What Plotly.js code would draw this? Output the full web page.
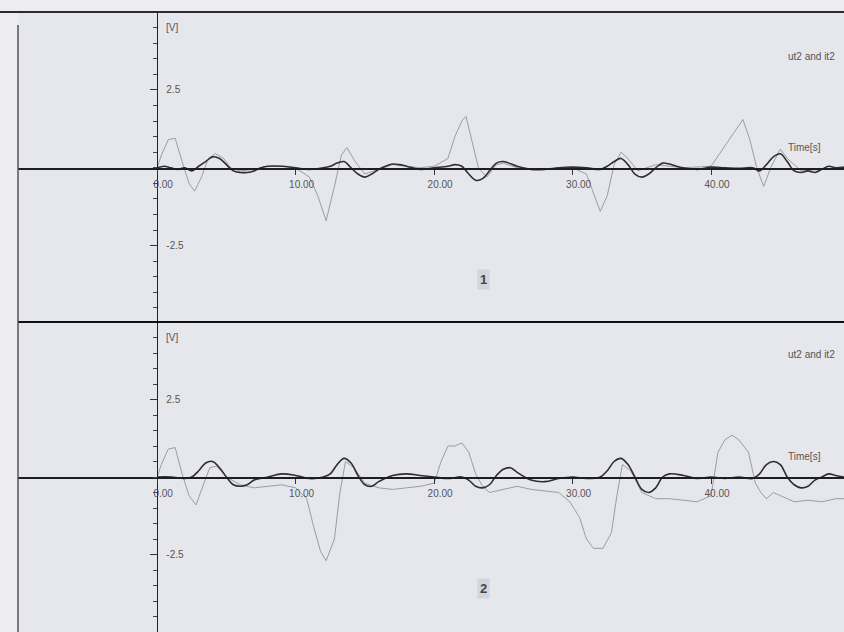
<!DOCTYPE html>
<html>
<head>
<meta charset="utf-8">
<script src="https://cdn.plot.ly/plotly-3.0.1.min.js"></script>
<style>html,body{margin:0;padding:0;background:#ececf1;}#chart{width:844px;height:632px;}</style>
</head>
<body>
<div id="chart"></div>
<script>
// Panel 1 — it2 (dark trace)
const t_it2_p1 = [0,0.5,1,1.5,2,2.5,3,3.5,4,4.5,5,5.5,6,6.5,7,7.5,8,9,10,11,12,12.5,13,13.5,14,14.5,15,15.5,16,16.5,17,17.5,18,19,20,21,21.5,22,22.5,23,23.5,24,24.5,25,26,27,28,29,30,31,32,32.5,33,33.5,34,34.5,35,35.5,36,36.5,37,37.5,38,39,40,41,42,43,43.5,44,44.5,45,45.5,46,46.5,47,47.5,48,48.5,49,49.6];
const v_it2_p1 = [0,0.05,0,-0.05,0,-0.1,0.05,0.2,0.35,0.3,0.1,-0.1,-0.15,-0.15,-0.1,0,0.05,0.05,0,-0.05,0,0.05,0.15,0.2,0,-0.2,-0.3,-0.2,-0.05,0.05,0.12,0.1,0.05,-0.05,0,0.05,0.1,0.05,-0.2,-0.4,-0.35,-0.1,0.15,0.2,0.05,-0.05,-0.05,0,0.02,0,-0.05,0.05,0.2,0.3,0.1,-0.2,-0.3,-0.2,0,0.15,0.12,0.05,0,-0.05,0.02,0,-0.02,0,-0.1,0.1,0.35,0.45,0.2,-0.1,-0.15,-0.1,-0.15,-0.05,0.05,0,0.02];

// Panel 1 — ut2 (thin trace)
const t_ut2_p1 = [0,0.3,0.8,1.3,1.8,2.3,2.7,3.2,3.7,4.2,4.8,5.3,6,7,8,9,10,11,11.6,12.2,12.8,13.3,13.7,14.3,15,16,17,18,19,20,21,21.5,22,22.3,22.7,23.2,23.8,24.5,25,26,28,30,31,31.5,32,32.5,33,33.5,34,34.7,36,37,38,40,40.7,41.5,42.3,42.8,43.3,43.8,44.3,45,45.5,46.5,48,49.6];
const v_ut2_p1 = [0,0.4,0.9,0.95,0.2,-0.5,-0.75,-0.3,0.3,0.45,0.3,0,-0.1,-0.05,0.05,0.05,0,-0.3,-0.9,-1.7,-0.6,0.4,0.65,0.2,-0.2,-0.05,0.1,0.05,0,0.05,0.3,1.0,1.5,1.65,0.9,0,-0.3,0.1,0.15,0,-0.05,0,-0.2,-0.8,-1.4,-0.9,0.1,0.5,0.3,-0.1,0.1,0.05,0,0.05,0.5,1.0,1.55,0.9,0,-0.6,0,0.6,0.3,-0.1,-0.05,0];

// Panel 2 — it2 (dark trace)
const t_it2_p2 = [0,1,2,2.5,3,3.5,4,4.5,5,5.5,6,6.5,7,8,9,10,11,12,12.5,13,13.5,14,14.5,15,15.5,16,17,18,19,20,21,22,22.5,23,23.5,24,24.5,25,25.5,26,27,28,29,30,31,32,32.5,33,33.5,34,34.5,35,35.5,36,36.5,37,38,39,40,41,42,43,43.5,44,44.5,45,45.5,46,46.5,47,47.5,48,48.5,49,49.6];
const v_it2_p2 = [0,0,-0.05,0,0.2,0.45,0.5,0.3,0,-0.25,-0.3,-0.25,-0.1,0,0.1,0.05,-0.05,0,0.1,0.4,0.6,0.45,0.05,-0.25,-0.3,-0.15,0.05,0.1,0.05,0,-0.05,0,-0.1,-0.3,-0.35,-0.25,0.05,0.25,0.3,0.15,-0.1,-0.15,-0.05,0,-0.05,0,0.2,0.5,0.6,0.4,0,-0.4,-0.5,-0.35,0,0.1,0.05,-0.05,0,-0.05,0,-0.05,0.1,0.4,0.5,0.4,0,-0.25,-0.35,-0.3,-0.1,0,0.1,0.05,0];

// Panel 2 — ut2 (thin trace)
const t_ut2_p2 = [0,0.3,0.8,1.3,1.8,2.3,2.8,3.3,3.8,4.3,5,6,7,8,9,10,10.8,11.3,11.8,12.2,12.8,13.2,13.6,14.2,15,16,17,18,19,20,20.5,21,21.5,22,22.5,23,23.5,24,25,26,27,28,29,29.8,30.5,31,31.5,32.2,32.8,33.2,33.6,34.2,35,36,37,38,39,40,40.5,41,41.5,42,42.7,43.2,43.6,44,44.5,45,46,47,48,49,49.6];
const v_ut2_p2 = [0,0.4,0.9,0.95,0.1,-0.6,-0.9,-0.3,0.3,0.35,0,-0.25,-0.35,-0.3,-0.25,-0.35,-0.7,-1.6,-2.4,-2.7,-2.0,-0.5,0.5,0.3,-0.2,-0.35,-0.4,-0.35,-0.3,-0.2,0.5,1.0,1.0,1.1,0.8,0.1,-0.3,-0.5,-0.4,-0.3,-0.4,-0.45,-0.5,-0.8,-1.3,-2.0,-2.3,-2.3,-1.8,-0.6,0.4,0.2,-0.5,-0.7,-0.7,-0.75,-0.8,-0.6,0.8,1.2,1.35,1.2,0.8,-0.2,-0.5,-0.7,-0.5,-0.6,-0.8,-0.75,-0.8,-0.7,-0.7];

const xTickVals = [0,10,20,30,40];
const yTickVals = [-2.5,2.5];
const yTickText = ['-2.5','2.5'];
const panelTexts = ['ut2 and it2','ut2 and it2'];
const panelNums = ['1','2'];

const darkCol = '#2e2e34', thinCol = '#9c9ca6';
const traces = [
  {x:t_ut2_p1, y:v_ut2_p1, xaxis:'x', yaxis:'y', mode:'lines', line:{color:thinCol, width:1}},
  {x:t_it2_p1, y:v_it2_p1, xaxis:'x', yaxis:'y', mode:'lines', line:{color:darkCol, width:1.6, shape:'spline'}},
  {x:t_ut2_p2, y:v_ut2_p2, xaxis:'x2', yaxis:'y2', mode:'lines', line:{color:thinCol, width:1}},
  {x:t_it2_p2, y:v_it2_p2, xaxis:'x2', yaxis:'y2', mode:'lines', line:{color:darkCol, width:1.6, shape:'spline'}}
];

const tickFont = {family:'Liberation Sans, Arial, sans-serif', size:10, color:'#555'};
function xAx(pos, yname){
  return {range:[-10.05,49.6], domain:[18/844,1], anchor:'free', overlaying:undefined, position:pos,
    showline:true, linecolor:'#1e1e22', linewidth:1.5, ticks:'outside', ticklen:5, tickcolor:'#333',
    tickvals:xTickVals, tickformat:'.2f', ticklabelshift:6, ticklabelstandoff:1, tickfont:tickFont,
    showgrid:false, zeroline:false, fixedrange:true};
}
function yAx(dom, rng){
  return {range:rng, domain:dom, anchor:'free', position:157/844, side:'right',
    showline:true, linecolor:'#222', linewidth:1.3, ticks:'inside', ticklen:7, tickcolor:'#333',
    tickvals:yTickVals, ticktext:yTickText, tickfont:tickFont, ticklabelstandoff:6,
    minor:{dtick:0.5, tick0:0, ticks:'inside', ticklen:4, tickcolor:'#444'},
    showgrid:false, zeroline:false, fixedrange:true};
}
const d1 = [(632-322)/632, (632-12)/632];
const d2 = [0, (632-322)/632];

const annFont = {family:'Liberation Sans, Arial, sans-serif', size:10, color:'#555'};
const annotations = [
  {xref:'x', yref:'y', x:0.5, y:4.5, text:'[V]', showarrow:false, xanchor:'left', font:annFont},
  {xref:'x2', yref:'y2', x:0.5, y:4.5, text:'[V]', showarrow:false, xanchor:'left', font:annFont},
  {xref:'x', yref:'y', x:45.4, y:0.66, text:'Time[s]', showarrow:false, xanchor:'left', font:annFont},
  {xref:'x2', yref:'y2', x:45.4, y:0.66, text:'Time[s]', showarrow:false, xanchor:'left', font:annFont},
  {xref:'x', yref:'y', x:49.1, y:3.56, text:panelTexts[0], showarrow:false, xanchor:'right', font:annFont},
  {xref:'x2', yref:'y2', x:49.1, y:3.94, text:panelTexts[1], showarrow:false, xanchor:'right', font:annFont},
  {xref:'x', yref:'y', x:23.6, y:-3.6, text:'<b>'+panelNums[0]+'</b>', showarrow:false, font:{family:'Liberation Sans, Arial, sans-serif', size:13, color:'#444'}, bgcolor:'rgba(200,200,208,0.6)', borderpad:2},
  {xref:'x2', yref:'y2', x:23.6, y:-3.6, text:'<b>'+panelNums[1]+'</b>', showarrow:false, font:{family:'Liberation Sans, Arial, sans-serif', size:13, color:'#444'}, bgcolor:'rgba(200,200,208,0.6)', borderpad:2}
];

const shapes = [
  {type:'line', xref:'paper', yref:'paper', x0:0, x1:1, y0:(632-12)/632, y1:(632-12)/632, line:{color:'#2a2a30', width:2}},
  {type:'line', xref:'paper', yref:'paper', x0:18/844, x1:1, y0:(632-322)/632, y1:(632-322)/632, line:{color:'#111', width:2}},
  {type:'line', xref:'paper', yref:'paper', x0:18/844, x1:18/844, y0:0, y1:(632-25)/632, line:{color:'#555', width:1.5}}
];

const layout = {
  width:844, height:632, margin:{l:0, r:0, t:0, b:0},
  paper_bgcolor:'#ececf1', plot_bgcolor:'#e6e6ed', showlegend:false,
  xaxis:xAx((632-168)/632), yaxis:yAx(d1,[-4.95,5]),
  xaxis2:xAx((632-477)/632), yaxis2:yAx(d2,[-5,5]),
  annotations:annotations, shapes:shapes
};
Plotly.newPlot('chart', traces, layout, {displayModeBar:false, staticPlot:true});
</script>
</body>
</html>
